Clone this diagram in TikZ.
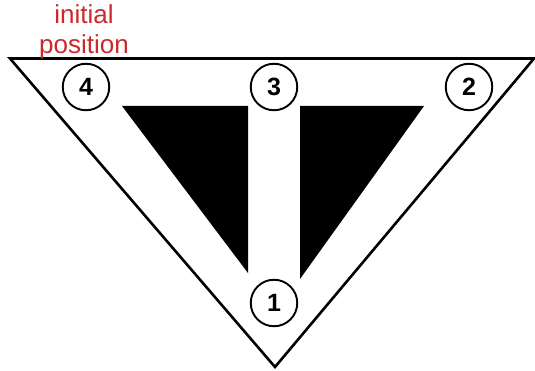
\documentclass[tikz,border=0pt]{standalone}
\usepackage{fontspec}
\setmainfont{Liberation Sans}
\definecolor{lblred}{HTML}{CC2A2A}
\begin{document}
\begin{tikzpicture}[x=1pt,y=-1pt,
  num/.style={circle,draw,line width=1.9pt,minimum size=46.5pt,inner sep=0pt,font=\fontsize{25}{25}\selectfont\bfseries},
  blk/.style={fill=black,draw=none}]
\useasboundingbox (0,0) rectangle (535,371);
\coordinate (tl) at (10,58.5);
\coordinate (tr) at (534,58.5);
\coordinate (bt) at (275,367);
\draw[line width=2.6pt,line join=miter] (tl) -- (tr) -- (bt) -- cycle;
\fill[blk] (122,106) -- (248,106) -- (248,273) -- cycle;
\fill[blk] (300,106) -- (424,106) -- (300,279) -- cycle;
\node[num] (n4) at (86,87) {4};
\node[num] (n3) at (274,87) {3};
\node[num] (n2) at (469,87) {2};
\node[num] (n1) at (274,303) {1};
\node[text=lblred,font=\fontsize{26}{30}\selectfont,align=center] (lbl) at (84,32) {initial\\position};
\end{tikzpicture}
\end{document}
